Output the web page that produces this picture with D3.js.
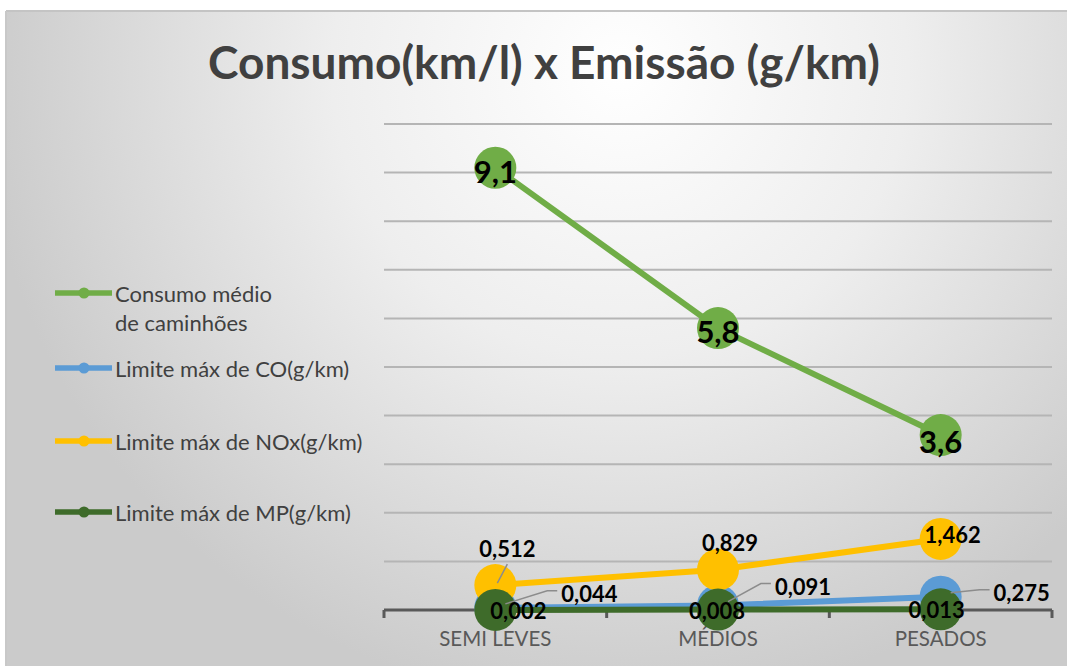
<!DOCTYPE html>
<html>
<head>
<meta charset="utf-8">
<script src="https://cdn.jsdelivr.net/npm/d3@7"></script>
<style>
  html, body { margin: 0; padding: 0; background: #fff; }
  svg text { font-family: Lato, "Open Sans", sans-serif; }
</style>
</head>
<body>
<div id="chart"></div>
<script>
// data
let categories = ["SEMI LEVES", "MÉDIOS", "PESADOS"];
let seriesNames = ["Consumo médio de caminhões", "Limite máx de CO(g/km)", "Limite máx de NOx(g/km)", "Limite máx de MP(g/km)"];
let consumo = [9.1, 5.8, 3.6];
let co = [0.044, 0.091, 0.275];
let nox = [0.512, 0.829, 1.462];
let mp = [0.002, 0.008, 0.013];
let yTicks = [0, 1, 2, 3, 4, 5, 6, 7, 8, 9, 10];

// look
let width = 1067;
let height = 666;
let colors = ["#70AD47", "#5B9BD5", "#FFC000", "#3E6B2A"];
let decimals = [1, 3, 3, 3];
let marker_r = 21;
// label offset from the marker centre, per series / point
let labelOffsets = [
  [[0, 3], [0, 3], [0, 6]],
  [[94, -14], [85, -19], [81, -4]],
  [[12, -37], [12, -27], [12, -4]],
  [[23, 1], [-1, 1], [-4, 0]]
];
let leaders = [
  [false, false, false],
  [true, true, true],
  [true, false, false],
  [false, false, false]
];

let locale = d3.formatLocale({decimal: ",", thousands: ".", grouping: [3], currency: ["R$", ""]});

let svg = d3.select("#chart").append("svg")
  .attr("width", width)
  .attr("height", height);

let defs = svg.append("defs");
let grad = defs.append("radialGradient")
  .attr("id", "bg")
  .attr("gradientUnits", "userSpaceOnUse")
  .attr("cx", 620).attr("cy", 70).attr("r", 640);
grad.append("stop").attr("offset", "0%").attr("stop-color", "#ffffff");
grad.append("stop").attr("offset", "45%").attr("stop-color", "#eeeeee");
grad.append("stop").attr("offset", "100%").attr("stop-color", "#cbcbcb");

// chart area
svg.append("rect")
  .attr("x", 6).attr("y", 11)
  .attr("width", width - 6).attr("height", height - 11)
  .attr("fill", "url(#bg)");
svg.append("line")
  .attr("x1", 6).attr("x2", width).attr("y1", 11).attr("y2", 11)
  .attr("stroke", "#c4c4c4").attr("stroke-width", 2);
svg.append("line")
  .attr("x1", 6).attr("x2", 6).attr("y1", 11).attr("y2", height)
  .attr("stroke", "#c8c8c8").attr("stroke-width", 2);

// title
svg.append("text")
  .attr("x", 544).attr("y", 79)
  .attr("text-anchor", "middle")
  .style("font-size", "46px")
  .style("font-weight", "bold")
  .style("fill", "#404040")
  .text("Consumo(km/l) x Emissão (g/km)");

let x = d3.scaleBand().domain(categories).range([384, 1052]).padding(0);
let y = d3.scaleLinear().domain([0, 10]).range([610, 124]);

// gridlines
svg.append("g")
  .selectAll("line")
  .data(yTicks.filter(d => d > 0))
  .enter().append("line")
  .attr("x1", 384).attr("x2", 1052)
  .attr("y1", d => y(d)).attr("y2", d => y(d))
  .attr("stroke", "#b5b5b5")
  .attr("stroke-width", 2);

// x axis
let xAxis = svg.append("g")
  .attr("transform", "translate(0," + y(0) + ")")
  .call(d3.axisBottom(x).tickSize(0).tickPadding(24));
xAxis.select(".domain").remove();
xAxis.selectAll("text")
  .style("font-family", "Lato, sans-serif")
  .style("font-size", "20.5px")
  .style("fill", "#595959")
  .attr("dy", "0.6em");
xAxis.append("line")
  .attr("x1", 384).attr("x2", 1052)
  .attr("stroke", "#595959").attr("stroke-width", 3);
let bounds = categories.map(c => x(c)).concat([x(categories[categories.length - 1]) + x.bandwidth()]);
xAxis.selectAll(".bt")
  .data(bounds)
  .enter().append("line")
  .attr("class", "bt")
  .attr("x1", d => d).attr("x2", d => d)
  .attr("y1", 0).attr("y2", 8)
  .attr("stroke", "#595959").attr("stroke-width", 3);

let allSeries = [consumo, co, nox, mp];
let cx = c => x(c) + x.bandwidth() / 2;

let line = d3.line()
  .x((d, i) => cx(categories[i]))
  .y(d => y(d));

// series: line, then its markers
allSeries.forEach(function(vals, s) {
  let g = svg.append("g").attr("class", "series");
  g.append("path")
    .datum(vals)
    .attr("d", line)
    .attr("fill", "none")
    .attr("stroke", colors[s])
    .attr("stroke-width", 6)
    .attr("stroke-linejoin", "round");
  g.selectAll("circle")
    .data(vals)
    .enter().append("circle")
    .attr("cx", (d, i) => cx(categories[i]))
    .attr("cy", d => y(d))
    .attr("r", marker_r)
    .attr("fill", colors[s]);
});

// data labels
let labelGroup = svg.append("g");
allSeries.forEach(function(vals, s) {
  let fmt = locale.format("." + decimals[s] + "f");
  vals.forEach(function(v, i) {
    let px = cx(categories[i]);
    let py = y(v);
    let lx = px + labelOffsets[s][i][0];
    let ly = py + labelOffsets[s][i][1];
    let t = labelGroup.append("text")
      .attr("x", lx).attr("y", ly)
      .attr("text-anchor", "middle")
      .attr("dominant-baseline", "central")
      .style("font-weight", "bold")
      .style("font-size", s === 0 ? "31px" : "22px")
      .style("fill", "#000")
      .text(fmt(v));
    if (leaders[s][i]) {
      let w = t.node().getComputedTextLength();
      let pts;
      if (labelOffsets[s][i][1] < -20 && Math.abs(labelOffsets[s][i][0]) < 30) {
        // label above the point
        pts = [[lx, ly + 16], [px + 2, py - 2]];
      } else {
        let ex = lx - w / 2 - 4;
        pts = [[ex, ly - 3], [ex - 10, ly - 3], [px + 10, py - 4]];
      }
      labelGroup.insert("path", "text")
        .attr("d", d3.line()(pts))
        .attr("fill", "none")
        .attr("stroke", "#8c8c8c")
        .attr("stroke-width", 1.5);
    }
  });
});

// legend
let legendY = [293, 368, 441, 512];
let legend = svg.append("g");
seriesNames.forEach(function(name, s) {
  let ly = legendY[s];
  legend.append("line")
    .attr("x1", 55).attr("x2", 112)
    .attr("y1", ly).attr("y2", ly)
    .attr("stroke", colors[s]).attr("stroke-width", 5.5);
  legend.append("circle")
    .attr("cx", 84).attr("cy", ly).attr("r", 5.5)
    .attr("fill", colors[s]);
  let t = legend.append("text")
    .attr("x", 115).attr("y", ly)
    .attr("dominant-baseline", "central")
    .style("font-size", "22px")
    .style("fill", "#404040");
  if (s === 0) {
    t.append("tspan").attr("x", 115).text("Consumo médio");
    t.append("tspan").attr("x", 115).attr("dy", 29).text("de caminhões");
  } else {
    t.text(name);
  }
});
</script>
</body>
</html>
